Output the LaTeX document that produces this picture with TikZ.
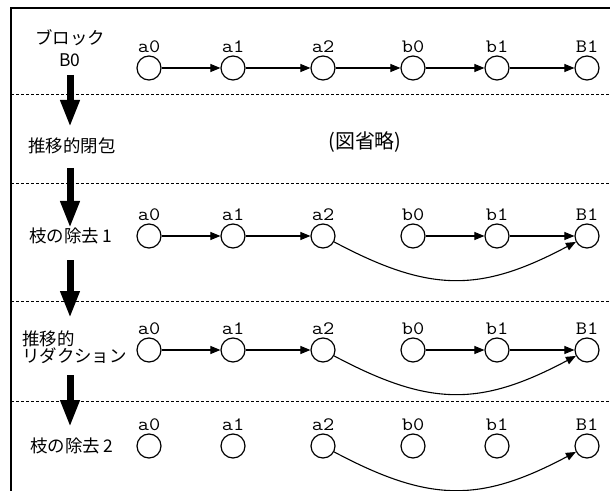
\documentclass[tikz,border=0pt]{standalone}
\usepackage{fontspec}
\setmainfont{Noto Sans CJK JP}
\usetikzlibrary{arrows.meta}
\newcommand{\vlab}[1]{\scalebox{1.15}[1]{#1}}
\begin{document}
\begin{tikzpicture}[x=1bp,y=-1bp,
  vtx/.style={circle,draw,line width=1.2bp,minimum size=24bp,inner sep=0pt},
  lbl/.style={font=\fontsize{19}{20}\selectfont\ttfamily,inner sep=0pt},
  jp/.style={font=\fontsize{17.5}{17}\selectfont,inner sep=0pt},
  big/.style={font=\fontsize{20}{22}\selectfont,inner sep=0pt},
  link/.style={line width=1.1bp,-{Triangle[length=10bp,width=8bp]}},
  bigarrow/.style={line width=7bp,-{Triangle[length=27bp,width=18bp]}},
  divider/.style={line width=1bp,dash pattern=on 3bp off 2bp}]
\useasboundingbox (0,0) rectangle (610,491);
% frame
\draw[line width=1.2bp] (11,491) -- (11,8) -- (610,8);
% dividers
\foreach \y in {95,184,301,401} \draw[divider] (11,\y) -- (610,\y);
% vertices
\foreach \r/\y in {1/68,2/236,3/350,4/446} {
  \foreach \n/\x in {a0/149,a1/233,a2/323,b0/413,b1/497,B1/587} {
    \node[vtx] (v\r\n) at (\x,\y) {};
    \node[lbl] (t\r\n) at (\x,\y-21) {\vlab{\n}};
  }
}
% row 1
\draw[link] (v1a0) -- (v1a1);
\draw[link] (v1a1) -- (v1a2);
\draw[link] (v1a2) -- (v1b0);
\draw[link] (v1b0) -- (v1b1);
\draw[link] (v1b1) -- (v1B1);
% rows 2 and 3
\foreach \r in {2,3} {
  \draw[link] (v\r a0) -- (v\r a1);
  \draw[link] (v\r a1) -- (v\r a2);
  \draw[link] (v\r b0) -- (v\r b1);
  \draw[link] (v\r b1) -- (v\r B1);
  \draw[link] (v\r a2) to[out=-28,in=-152,looseness=1.15] (v\r B1);
}
% row 4
\draw[link] (v4a2) to[out=-28,in=-152,looseness=1.15] (v4B1);
% labels
\node[jp] (blk) at (70,38) {ブロック};
\node[jp] (b0) at (70,60) {B0};
\node[jp] (tc) at (72,146) {推移的閉包};
\node[big] (omit) at (365,142) {(図省略)};
\node[jp] (rm1) at (71,236) {枝の除去 1};
\node[jp,align=left,anchor=west] (tr) at (22,347) {推移的\\リダクション};
\node[jp] (rm2) at (72,446) {枝の除去 2};
% big arrows
\coordinate (s1) at (70,75);  \coordinate (e1) at (70,127);
\coordinate (s2) at (70,168); \coordinate (e2) at (70,228);
\coordinate (s3) at (70,260); \coordinate (e3) at (70,318);
\coordinate (s4) at (70,375); \coordinate (e4) at (70,427);
\draw[bigarrow] (s1) -- (e1);
\draw[bigarrow] (s2) -- (e2);
\draw[bigarrow] (s3) -- (e3);
\draw[bigarrow] (s4) -- (e4);
\end{tikzpicture}
\end{document}
